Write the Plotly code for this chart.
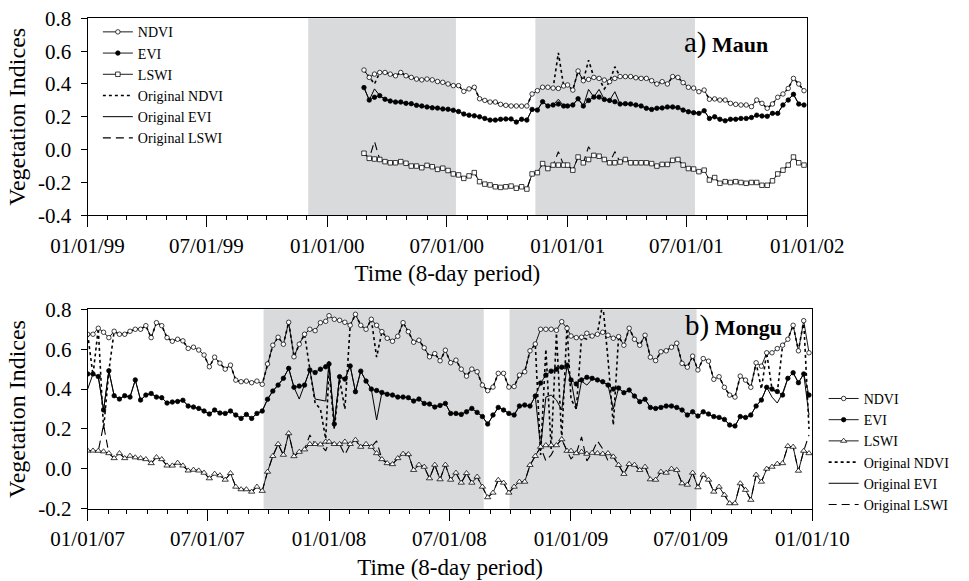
import datetime as dt
import plotly.graph_objects as go

# ---------------- data ----------------
def composite_dates(year, first=0):
    # MODIS 8-day composite start dates
    return [dt.date(year, 1, 1) + dt.timedelta(days=8 * k) for k in range(first, 46)]

maun_dates = composite_dates(2000, 7) + composite_dates(2001)
mongu_dates = composite_dates(2007) + composite_dates(2008) + composite_dates(2009)

maun_ndvi = [0.485, 0.44, 0.46, 0.47, 0.47, 0.46, 0.45, 0.47, 0.45, 0.44,
             0.43, 0.425, 0.43, 0.425, 0.415, 0.41, 0.40, 0.39, 0.39, 0.355,
             0.37, 0.38, 0.31, 0.30, 0.29, 0.29, 0.276, 0.27, 0.266, 0.266,
             0.265, 0.266,
             0.339, 0.359, 0.38, 0.38, 0.375, 0.373, 0.388, 0.394, 0.363, 0.479,
             0.42, 0.428, 0.44, 0.434, 0.424, 0.414, 0.434, 0.445, 0.445, 0.445,
             0.438, 0.434, 0.434, 0.42, 0.40, 0.414, 0.40, 0.445, 0.44, 0.408,
             0.38, 0.375, 0.353, 0.363, 0.307, 0.309, 0.302, 0.302, 0.282, 0.276,
             0.272, 0.272, 0.262, 0.302, 0.282, 0.252, 0.278, 0.319, 0.339, 0.373,
             0.434, 0.40, 0.359]
maun_evi = [0.378, 0.302, 0.319, 0.329, 0.307, 0.296, 0.29, 0.29, 0.282, 0.28,
            0.27, 0.266, 0.26, 0.255, 0.253, 0.248, 0.246, 0.24, 0.232, 0.217,
            0.21, 0.206, 0.20, 0.19, 0.18, 0.18, 0.185, 0.187, 0.187, 0.168,
            0.185, 0.18,
            0.245, 0.241, 0.292, 0.266, 0.272, 0.278, 0.266, 0.266, 0.272, 0.31,
            0.266, 0.30, 0.32, 0.32, 0.306, 0.30, 0.292, 0.278, 0.28, 0.278,
            0.272, 0.266, 0.252, 0.245, 0.252, 0.254, 0.26, 0.26, 0.256, 0.241,
            0.231, 0.225, 0.221, 0.237, 0.19, 0.20, 0.185, 0.176, 0.185, 0.185,
            0.19, 0.19, 0.196, 0.21, 0.205, 0.203, 0.221, 0.221, 0.272, 0.302,
            0.337, 0.278, 0.272]
maun_lswi = [-0.022, -0.053, -0.057, -0.06, -0.073, -0.08, -0.08, -0.073, -0.083, -0.10,
             -0.10, -0.11, -0.096, -0.104, -0.12, -0.113, -0.127, -0.148, -0.154, -0.175,
             -0.16, -0.14, -0.195, -0.21, -0.215, -0.226, -0.23, -0.226, -0.222, -0.235,
             -0.226, -0.24,
             -0.148, -0.14, -0.085, -0.115, -0.094, -0.094, -0.094, -0.094, -0.125, -0.045,
             -0.08, -0.06, -0.035, -0.04, -0.06, -0.08, -0.08, -0.075, -0.06, -0.08,
             -0.08, -0.08, -0.08, -0.085, -0.10, -0.09, -0.09, -0.065, -0.06, -0.094,
             -0.115, -0.118, -0.134, -0.125, -0.185, -0.17, -0.205, -0.195, -0.20, -0.195,
             -0.20, -0.205, -0.20, -0.20, -0.217, -0.217, -0.19, -0.148, -0.125, -0.094,
             -0.045, -0.08, -0.094]
# original (unfiltered) values where they differ from the filtered series
maun_orig_ndvi_diff = {2: 0.40, 37: 0.59, 43: 0.545, 46: 0.37, 48: 0.505}
maun_orig_evi_diff = {2: 0.37, 37: 0.307, 43: 0.367, 45: 0.367, 48: 0.353}
maun_orig_lswi_diff = {2: 0.05, 37: -0.012, 43: 0.018, 48: -0.012}

mongu_ndvi = [0.675, 0.675, 0.705, 0.685, 0.658, 0.69, 0.675, 0.675, 0.69, 0.70,
              0.70, 0.718, 0.658, 0.733, 0.718, 0.658, 0.64, 0.65, 0.642, 0.604,
              0.61, 0.596, 0.571, 0.512, 0.56, 0.53, 0.50, 0.52, 0.445, 0.437,
              0.44, 0.432, 0.44, 0.424, 0.526, 0.62,
              0.66, 0.625, 0.735, 0.562, 0.625, 0.675, 0.70, 0.693, 0.733, 0.74,
              0.768, 0.75, 0.745, 0.735, 0.72, 0.775, 0.72, 0.70, 0.75, 0.72,
              0.688, 0.655, 0.64, 0.665, 0.733, 0.688, 0.635, 0.645, 0.607, 0.562,
              0.578, 0.542, 0.595, 0.532,
              0.545, 0.50, 0.465, 0.50, 0.487, 0.42, 0.392, 0.41, 0.479, 0.479,
              0.41, 0.413, 0.47, 0.487, 0.592, 0.626, 0.70, 0.70, 0.70, 0.695,
              0.738, 0.705, 0.666, 0.658, 0.66, 0.68, 0.666, 0.675, 0.685, 0.67,
              0.655, 0.663, 0.62, 0.705,
              0.65, 0.62, 0.67, 0.56, 0.543, 0.587, 0.592, 0.61, 0.63, 0.529,
              0.51, 0.565, 0.496, 0.553, 0.54, 0.449, 0.462, 0.409, 0.37, 0.36,
              0.465, 0.445, 0.409, 0.532, 0.515, 0.582, 0.582, 0.603, 0.62, 0.65,
              0.72, 0.592, 0.743, 0.582]
mongu_evi = [0.476, 0.476, 0.463, 0.295, 0.492, 0.367, 0.35, 0.367, 0.36, 0.446,
             0.345, 0.37, 0.378, 0.36, 0.357, 0.33, 0.335, 0.338, 0.344, 0.315,
             0.31, 0.303, 0.29, 0.275, 0.295, 0.28, 0.278, 0.29, 0.27, 0.253,
             0.273, 0.253, 0.278, 0.29, 0.349, 0.39,
             0.42, 0.454, 0.504, 0.409, 0.415, 0.42, 0.496, 0.483, 0.50, 0.512,
             0.526, 0.225, 0.462, 0.45, 0.516, 0.387, 0.49, 0.44, 0.40, 0.393,
             0.383, 0.374, 0.37, 0.36, 0.36, 0.357, 0.34, 0.35, 0.328, 0.325,
             0.31, 0.318, 0.328, 0.278,
             0.278, 0.273, 0.286, 0.303, 0.283, 0.262, 0.225, 0.27, 0.308, 0.295,
             0.278, 0.27, 0.315, 0.32, 0.315, 0.365, 0.43, 0.47, 0.49, 0.50,
             0.51, 0.52, 0.446, 0.426, 0.446, 0.459, 0.454, 0.446, 0.437, 0.42,
             0.40, 0.405, 0.382, 0.395,
             0.365, 0.337, 0.349, 0.308, 0.303, 0.308, 0.315, 0.315, 0.308, 0.295,
             0.27, 0.286, 0.265, 0.286, 0.275, 0.262, 0.258, 0.248, 0.22, 0.215,
             0.262, 0.258, 0.27, 0.315, 0.345, 0.409, 0.40, 0.388, 0.37, 0.454,
             0.482, 0.432, 0.476, 0.37]
mongu_lswi = [0.091, 0.091, 0.09, 0.087, 0.078, 0.053, 0.078, 0.053, 0.065, 0.057,
              0.053, 0.048, 0.028, 0.058, 0.048, 0.016, 0.016, 0.03, 0.016, -0.009,
              -0.005, -0.009, -0.02, -0.048, -0.025, -0.033, -0.055, -0.022, -0.09, -0.103,
              -0.103, -0.115, -0.09, -0.111, -0.015, 0.064,
              0.124, 0.07, 0.178, 0.063, 0.085, 0.097, 0.124, 0.124, 0.122, 0.136,
              0.136, 0.124, 0.124, 0.136, 0.124, 0.145, 0.11, 0.124, 0.11, 0.078,
              0.048, 0.028, 0.023, 0.053, 0.075, 0.073, -0.006, 0.02, 0.01, -0.048,
              0.02, -0.053, 0.02, -0.055,
              -0.02, -0.07, -0.022, -0.07, -0.04, -0.09, -0.143, -0.12, -0.056, -0.07,
              -0.12, -0.09, -0.065, -0.065, 0.019, 0.064, 0.11, 0.118, 0.118, 0.118,
              0.148, 0.09, 0.09, 0.078, 0.085, 0.075, 0.08, 0.078, 0.075, 0.078,
              0.061, 0.019, -0.026, 0.024,
              0.02, -0.006, 0.01, -0.053, -0.055, -0.015, -0.02, 0.0, -0.006, -0.073,
              -0.08, -0.02, -0.093, -0.03, -0.055, -0.115, -0.09, -0.131, -0.173, -0.173,
              -0.073, -0.106, -0.156, -0.03, -0.065, 0.0, 0.01, 0.025, 0.028, 0.114,
              0.11, -0.01, 0.09, 0.078]
mongu_orig_ndvi_diff = {1: 0.47, 3: 0.20, 4: 0.49,
                        42: 0.50, 43: 0.33, 44: 0.30, 45: 0.15, 46: 0.50, 47: 0.20,
                        48: 0.45, 49: 0.30, 55: 0.56,
                        86: 0.07, 87: 0.60, 88: 0.10, 89: 0.68, 90: 0.15, 91: 0.72,
                        92: 0.35, 93: 0.30, 95: 0.65, 97: 0.68, 98: 0.83, 99: 0.55,
                        100: 0.22, 128: 0.40, 130: 0.40, 131: 0.38, 137: 0.20}
mongu_orig_evi_diff = {0: 0.40, 40: 0.35, 43: 0.35, 44: 0.345, 45: 0.34, 46: 0.54,
                       55: 0.245, 86: 0.11, 87: 0.36, 88: 0.37, 89: 0.345, 90: 0.295,
                       93: 0.30, 94: 0.44, 95: 0.42, 96: 0.45, 100: 0.30,
                       130: 0.36, 131: 0.33, 132: 0.38, 137: 0.27}
mongu_orig_lswi_diff = {3: 0.22, 42: 0.17, 45: 0.09, 49: 0.07, 55: 0.14,
                        87: 0.04, 88: 0.07, 92: 0.05, 94: 0.16, 95: 0.04, 97: 0.14,
                        98: 0.10, 99: 0.04, 137: 0.17}

maun_shaded = [("1999-12-03", "2000-07-15"), ("2000-11-13", "2001-07-14")]
mongu_shaded = [("2007-09-24", "2008-08-22"), ("2008-09-30", "2009-07-10")]

maun_yticks = [-0.4, -0.2, 0.0, 0.2, 0.4, 0.6, 0.8]
maun_ytext = ["-0.4", "-0.2", "0.0", "0.2", "0.4", "0.6", "0.8"]
mongu_yticks = [-0.2, 0.0, 0.2, 0.4, 0.6, 0.8]
mongu_ytext = ["-0.2", "0.0", "0.2", "0.4", "0.6", "0.8"]


def with_diff(base, diff):
    out = list(base)
    for k, v in diff.items():
        out[k] = v
    return out

# ---------------- figure ----------------
FONT = "Liberation Serif"
fig = go.Figure()


def add_panel(dates, ndvi, evi, lswi, dn, de, dl, xa, ya, legend, lswi_symbol):
    orig = [("Original NDVI", with_diff(ndvi, dn), dict(dash="dot", width=1.6), 4),
            ("Original EVI", with_diff(evi, de), dict(dash="solid", width=1.0), 5),
            ("Original LSWI", with_diff(lswi, dl), dict(dash="8px,5px", width=1.1), 6)]
    for name, vals, ln, rank in orig:
        fig.add_trace(go.Scatter(x=dates, y=vals, mode="lines", name=name,
                                 line=dict(color="black", **ln), xaxis=xa, yaxis=ya,
                                 legend=legend, legendrank=rank))
    lsize = 4.5 if lswi_symbol == "square" else 5.5
    smooth = [("NDVI", ndvi, dict(symbol="circle", size=4.5, color="white"), 1),
              ("EVI", evi, dict(symbol="circle", size=4.5, color="black"), 2),
              ("LSWI", lswi, dict(symbol=lswi_symbol, size=lsize, color="white"), 3)]
    for name, vals, mk, rank in smooth:
        fig.add_trace(go.Scatter(x=dates, y=vals, mode="lines+markers", name=name,
                                 line=dict(color="black", width=0.9),
                                 marker=dict(line=dict(color="black", width=0.75), **mk),
                                 xaxis=xa, yaxis=ya, legend=legend, legendrank=rank))


add_panel(maun_dates, maun_ndvi, maun_evi, maun_lswi, maun_orig_ndvi_diff,
          maun_orig_evi_diff, maun_orig_lswi_diff, "x", "y", "legend", "square")
add_panel(mongu_dates, mongu_ndvi, mongu_evi, mongu_lswi, mongu_orig_ndvi_diff,
          mongu_orig_evi_diff, mongu_orig_lswi_diff, "x2", "y2", "legend2", "triangle-up")

shapes = []
for x0, x1 in maun_shaded:
    shapes.append(dict(type="rect", xref="x", yref="y domain", x0=x0, x1=x1, y0=0, y1=1,
                       fillcolor="#d9dadc", line=dict(width=0), layer="below"))
for x0, x1 in mongu_shaded:
    shapes.append(dict(type="rect", xref="x2", yref="y2 domain", x0=x0, x1=x1, y0=0, y1=1,
                       fillcolor="#d9dadc", line=dict(width=0), layer="below"))

tickfont = dict(family=FONT, size=21, color="black")
titlefont = dict(family=FONT, size=23, color="black")


def xaxis(rng, tick0, domain, anchor):
    return dict(domain=domain, anchor=anchor, type="date", range=rng,
                tick0=tick0, dtick="M6", tickformat="%m/%d/%y",
                ticks="outside", ticklen=11, tickwidth=1, tickcolor="black",
                minor=dict(ticks="outside", ticklen=4, dtick="M1", tick0=tick0,
                           tickcolor="black", showgrid=False),
                showline=True, linecolor="black", linewidth=1, mirror=True,
                showgrid=False, zeroline=False, tickfont=tickfont,
                title=dict(text="Time (8-day period)", font=titlefont, standoff=8))


def yaxis(rng, vals, text, domain, anchor):
    return dict(domain=domain, anchor=anchor, range=rng, tickmode="array",
                tickvals=vals, ticktext=text, ticks="outside", ticklen=6,
                ticklabelstandoff=5,
                tickcolor="black", showline=True, linecolor="black", linewidth=1,
                mirror=True, showgrid=False, zeroline=False, tickfont=tickfont,
                title=dict(text="Vegetation Indices", font=dict(family=FONT, size=24,
                                                                 color="black"),
                           standoff=5))


fig.update_layout(
    width=969, height=581,
    margin=dict(l=0, r=0, t=0, b=0, autoexpand=False),
    paper_bgcolor="white", plot_bgcolor="white",
    font=dict(family=FONT, color="black"),
    xaxis=xaxis(["1999-01-01", "2002-01-01"], "1999-01-01", [0.0903, 0.8331], "y"),
    yaxis=yaxis([-0.4, 0.8], maun_yticks, maun_ytext, [0.6294, 0.9685], "x"),
    xaxis2=xaxis(["2007-01-01", "2010-01-01"], "2007-01-01", [0.0905, 0.8383], "y2"),
    yaxis2=yaxis([-0.2, 0.8], mongu_yticks, mongu_ytext, [0.1244, 0.4676], "x2"),
    shapes=shapes,
    legend=dict(x=0.101, y=0.972, xanchor="left", yanchor="top",
                bgcolor="rgba(0,0,0,0)", font=dict(family=FONT, size=14),
                tracegroupgap=0, itemwidth=30),
    legend2=dict(x=0.85, y=0.341, xanchor="left", yanchor="top",
                 bgcolor="rgba(0,0,0,0)", font=dict(family=FONT, size=14),
                 tracegroupgap=0, itemwidth=30),
    annotations=[
        dict(xref="paper", yref="paper", x=0.7043, y=0.926, xanchor="left",
             yanchor="middle", showarrow=False,
             text="<span style='font-size:29px'>a)</span> <b>Maun</b>",
             font=dict(family=FONT, size=22, color="black")),
        dict(xref="paper", yref="paper", x=0.7048, y=0.4389, xanchor="left",
             yanchor="middle", showarrow=False,
             text="<span style='font-size:29px'>b)</span> <b>Mongu</b>",
             font=dict(family=FONT, size=22, color="black")),
    ],
)

fig.write_html("out.html")
